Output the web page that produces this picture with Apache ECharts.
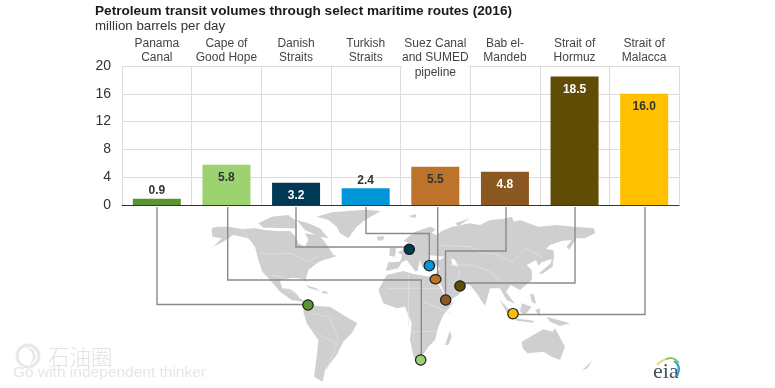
<!DOCTYPE html>
<html>
<head>
<meta charset="utf-8">
<style>html,body{margin:0;padding:0;background:#fff}#c{width:775px;height:388px}</style>
<script src="https://cdn.jsdelivr.net/npm/echarts@6/dist/echarts.min.js"></script>
</head>
<body>
<div id="c"></div>
<script>
const categories = ["Panama\nCanal","Cape of\nGood Hope","Danish\nStraits","Turkish\nStraits","Suez Canal\nand SUMED\npipeline","Bab el-\nMandeb","Strait of\nHormuz","Strait of\nMalacca"];
const values = [0.9,5.8,3.2,2.4,5.5,4.8,18.5,16.0];
const barColors = ["#5b9530","#9dd271","#003953","#0096d7","#bd732a","#8c5821","#614c06","#ffc000"];
const labelColors = ["#333","#333","#fff","#333","#333","#fff","#fff","#333"];
const labelOutside = [true,false,false,true,false,false,false,false];
const yTicks = {min:0,max:20,interval:4};

// Background map outlines (several crop frames)
const northAmerica = [
 [[20,70],[35,65],[70,65],[110,72],[150,70],[180,75],[215,78],[255,78],[272,95],[280,115],[300,125],[310,105],[300,85],[340,90],[355,105],[370,125],[385,150],[397,152],[375,160],[355,165],[340,172],[310,195],[302,225],[305,235],[295,222],[265,218],[240,222],[225,228],[232,250],[255,252],[270,262],[285,280],[300,290],[290,290],[260,285],[225,260],[200,230],[172,200],[160,165],[150,125],[130,100],[110,95],[85,90],[55,110],[25,125],[50,100],[22,95]],
 [[160,55],[200,35],[250,30],[270,45],[275,70],[240,70],[200,68],[175,68]],
 [[275,45],[310,55],[345,70],[370,100],[345,95],[300,75]],
 [[335,35],[380,22],[480,14],[527,18],[480,45],[455,65],[430,100],[405,85],[395,65],[370,45]],
 [[300,240],[330,248],[345,258],[315,250]],[[350,258],[368,260],[366,266],[352,264]]
];
const southAmerica = [
 [[525,305],[560,318],[600,320],[640,345],[682,370],[665,400],[640,425],[620,465],[585,510],[578,545],[552,530],[560,470],[565,420],[530,370],[520,335]]
];
const europeWest = [[62,198],[70,172],[105,170],[112,150],[98,142],[125,130],[128,112],[140,125],[150,118],[115,108],[150,80],[195,65],[212,72],[200,85],[215,90],[230,78],[262,65],[315,55],[345,60]];
const asiaNorth = [[60,45],[100,42],[125,35],[132,50],[150,45],[205,65],[260,60],[310,65],[372,70],[375,85],[345,100],[318,100],[298,135],[290,125],[305,105],[275,108],[240,120],[228,132],[250,135],[252,160],[215,172],[205,183],[198,165],[170,180],[185,195],[186,225],[150,255],[122,240],[108,260],[135,297],[110,285],[90,250],[60,250],[45,303],[20,265],[0,240]];
const westAsiaSouth = [[280,235],[252,207],[295,250],[280,270],[250,288],[225,235],[210,207],[225,192],[220,183],[172,188],[165,165],[158,195],[140,165],[160,195],[152,200],[125,165],[110,172],[100,190]];
const eurasia = [...europeWest.map(p=>[p[0]-315,p[1]]), ...asiaNorth, ...westAsiaSouth.map(p=>[p[0]-315,p[1]])];
const innerSeas = [
 [[190,150],[240,155],[225,165],[195,165]],[[258,160],[270,165],[280,185],[262,180]]
].map(s=>s.map(p=>[p[0]-315,p[1]]));
const eastLands = [
 [[-65,270],[-40,225],[10,213],[40,222],[100,232],[125,270],[150,312],[165,302],[130,345],[115,380],[105,420],[85,440],[62,475],[42,475],[30,420],[35,370],[15,320],[-10,325],[-50,310]],
 [[365,425],[400,405],[430,388],[458,395],[465,385],[495,440],[480,480],[455,470],[430,455],[382,460],[368,445]],
 [[135,435],[150,392],[155,410],[145,435]],
 [[415,222],[452,190],[462,152],[458,200],[430,220]],
 [[545,512],[578,480],[562,505]],
 [[298,298],[340,342],[325,346]],[[365,310],[395,320],[375,345],[360,335]],
 [[440,350],[510,370],[480,378],[450,365]],[[345,355],[400,362],[400,368],[350,362]],
 [[390,280],[402,285],[408,312],[395,305]],[[405,330],[420,325],[420,350]],
 [[-30,140],[-12,145],[-15,170],[-32,167]],[[-70,110],[-48,108],[-50,120],[-66,122]],
 [[25,48],[50,42],[45,55]],[[165,70],[210,55],[175,78]]
];
const naBorders = [[[165,147],[260,145],[310,170],[345,150]],[[110,72],[130,100]],[[200,210],[240,218]],[[245,255],[270,265]]];
const saBorders = [[[540,340],[600,350],[625,420],[590,510]],[[560,400],[620,430]]];
const asiaBorders = [[[-100,120],[0,125],[40,145],[70,145],[125,172],[170,130],[215,155]],[[10,180],[60,200],[100,235]],[[-60,180],[10,180]],[[-40,235],[-30,195]]];
const africaBorders = [[[-40,265],[120,265]],[[25,215],[25,380]],[[60,300],[150,340]],[[35,395],[110,395]]];
// Leader lines: pipe routes and dot centres
const routes = [
 [[157,207],[157,304.5],[308,304.5]],
 [[227.7,207],[227.7,280],[421.3,280],[421.3,360]],
 [[296,207],[296,247],[409,247]],
 [[366,207],[366,233.5],[429.3,233.5],[429.3,265]],
 [[437.7,207],[437.7,279]],
 [[506,207],[506,251],[445.5,251],[445.5,300]],
 [[575,207],[575,283],[460,283]],
 [[645,207],[645,314.5],[513,314.5]]
];
const dots = [[308,305],[420.7,360],[409.3,249.3],[429.3,265.7],[435.5,279.3],[445.7,300],[460,286],[513,313.7]];

const fA = p => [205+p[0]/3, 205+p[1]/3];
const fC = p => [470+p[0]/3, 205+p[1]/3];
const fW = p => [130+p[0]/3, 200+p[1]/3];
const fE = p => [400+p[0]/3, 200+p[1]/3];
const MAP = "#cfcfcf";
const g = [];
const land = (list,f,fill) => list.forEach(s => g.push({type:'polygon',shape:{points:s.map(f)},style:{fill:fill||MAP},silent:true}));
const lines = (list,f) => list.forEach(s => g.push({type:'polyline',shape:{points:s.map(f)},style:{stroke:'#e4e4e4',lineWidth:0.7,fill:null},silent:true}));
land(northAmerica,fA); land(southAmerica,fW); land(eastLands,fE); land([eurasia],fC); land(innerSeas,fC,'#fff');
lines(naBorders,fA); lines(saBorders,fW); lines(asiaBorders,fC); lines(africaBorders,fE);
routes.forEach(r => g.push({type:'polyline',shape:{points:r},style:{stroke:'#8a8a8a',lineWidth:1.4,fill:null},silent:true}));
dots.forEach((d,i) => g.push({type:'ellipse',shape:{cx:d[0],cy:d[1],rx:i===4?5.5:5.2,ry:i===4?4.6:5.2},style:{fill:barColors[i],stroke:'#1d1d1d',lineWidth:1.2},silent:true}));
// Title and subtitle
g.push({type:'text',x:95,y:4,style:{text:'Petroleum transit volumes through select maritime routes (2016)',font:'bold 13.6px "Liberation Sans"',fill:'#1a1a1a'}});
g.push({type:'text',x:95,y:20,style:{text:'million barrels per day',font:'13.3px "Liberation Sans"',fill:'#333'}});
// eia logo
g.push({type:'text',x:653,y:361,style:{text:'eia',font:'22px "Liberation Serif"',fill:'#44525a'}});
const arc = (x1,y1,cx,cy,x2,y2,c,w) => g.push({type:'bezierCurve',shape:{x1,y1,x2,y2,cpx1:cx,cpy1:cy},style:{stroke:c,lineWidth:w,fill:null},silent:true});
arc(657,365,662,359,672,358,'#f2cf5b',1.6);
arc(666,359,674,356,679,363,'#8dbf5a',1.6);
arc(674,361,682,366,677,376,'#2a9fd6',2);
// Watermark
g.push({type:'circle',shape:{cx:28,cy:356,r:11},style:{fill:'none',stroke:'#e8e8e8',lineWidth:3},silent:true});
g.push({type:'polygon',shape:{points:[[24,346],[34,350],[36,358],[30,366],[33,357],[31,351]]},style:{fill:'#e8e8e8'},silent:true});
g.push({type:'text',x:48,y:346,style:{text:'石油圈',font:'300 21.5px "Noto Sans CJK SC"',fill:'#e2e2e2'}});
g.push({type:'text',x:13,y:365,style:{text:'Go with independent thinker',font:'15.5px "Liberation Sans"',fill:'#e6e6e6'}});

const chart = echarts.init(document.getElementById('c'),null,{renderer:'canvas'});
chart.setOption({
 animation:false,
 backgroundColor:'#fff',
 grid:{left:122,right:96,top:66,bottom:183},
 graphic:{elements:g},
 xAxis:[
  {type:'category',position:'top',data:categories,
   axisLine:{show:false},axisTick:{show:false},
   splitLine:{show:true,lineStyle:{color:'#dcdcdc',width:1}},
   axisLabel:{interval:0,margin:30,verticalAlign:'top',lineHeight:14.5,fontFamily:'Liberation Sans',fontSize:12,color:'#444',backgroundColor:'#fff',align:'center'},
   z:5},
  {type:'category',position:'bottom',data:categories,
   axisLine:{show:true,onZero:false,lineStyle:{color:'#333',width:1.2}},axisTick:{show:false},axisLabel:{show:false},splitLine:{show:false}}
 ],
 yAxis:{type:'value',min:yTicks.min,max:yTicks.max,interval:yTicks.interval,
  axisLine:{show:false},axisTick:{show:false},
  splitLine:{lineStyle:{color:'#dcdcdc',width:1}},
  axisLabel:{margin:11,fontFamily:'Liberation Sans',fontSize:14,color:'#333'}},
 series:[{type:'bar',barWidth:48,xAxisIndex:0,
  data:values.map((v,i)=>({value:v,itemStyle:{color:barColors[i]},
   label:{show:true,position:labelOutside[i]?'top':'insideTop',distance:labelOutside[i]?2:7,color:labelColors[i],
    fontFamily:'Liberation Sans',fontSize:12,fontWeight:'bold',formatter:p=>p.value.toFixed(1)}}))
 }]
});
</script>
</body>
</html>
